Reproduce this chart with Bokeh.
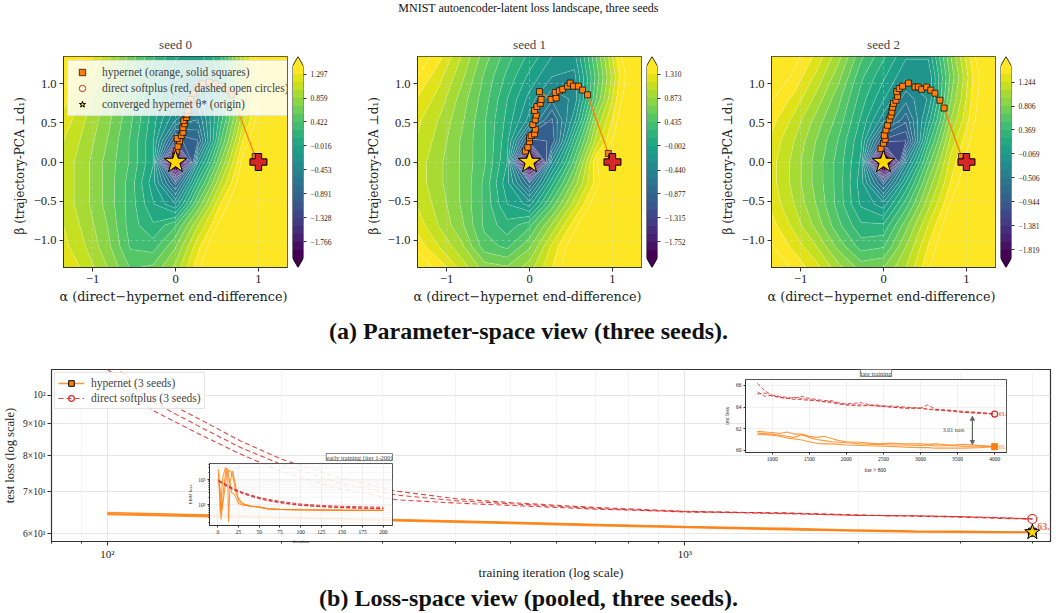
import math
import numpy as np
from bokeh.plotting import figure
from bokeh.layouts import column, row
from bokeh.models import (Range1d, FixedTicker, SingleIntervalTicker,
                          CustomJSTickFormatter, Label, Legend, LegendItem, Arrow,
                          NormalHead, Spacer, Title)
from bokeh.palettes import Viridis256
from bokeh.embed import file_html
from bokeh.resources import INLINE

# ---------------------------------------------------------------- style
SERIF = "DejaVu Serif"
TIMES = "Liberation Serif"
ORANGE = "#ff7f0e"
RED = "#d62728"
GOLD = "#ffd700"
EDGE = "#333333"

# ------------------------------------------------ (a) loss landscapes
# grid coordinates (alpha along columns, beta along rows, bottom -> top)
alpha_grid = [-1.35, -1.08, -0.81, -0.54, -0.27, 0.0, 0.27, 0.54, 0.81, 1.08, 1.35]
beta_grid = [-1.35, -1.08, -0.81, -0.54, -0.27, 0.0, 0.27, 0.54, 0.81, 1.08, 1.35]

# log10(loss - minloss) on the grid
landscape_seed0 = [
    [1.30, 1.10, 0.85, 0.55, 0.60, 0.90, 1.40, 1.80, 2.10, 2.30, 2.40],
    [1.20, 1.00, 0.75, 0.40, 0.35, 0.70, 1.25, 1.70, 2.00, 2.20, 2.30],
    [1.15, 0.95, 0.70, 0.35, 0.15, 0.40, 1.00, 1.50, 1.90, 2.10, 2.20],
    [1.10, 0.90, 0.65, 0.35, 0.00, -0.30, 0.60, 1.30, 1.70, 2.00, 2.10],
    [1.10, 0.90, 0.65, 0.35, -0.10, -0.95, 0.20, 1.00, 1.60, 1.90, 2.10],
    [1.10, 0.90, 0.65, 0.40, 0.00, -3.00, -0.30, 0.70, 1.50, 1.90, 2.00],
    [1.15, 0.95, 0.70, 0.40, 0.00, -1.10, -0.90, 0.40, 1.30, 1.80, 2.00],
    [1.25, 1.00, 0.75, 0.45, 0.05, -0.45, -0.60, 0.20, 1.10, 1.70, 2.00],
    [1.35, 1.10, 0.80, 0.50, 0.10, -0.25, -0.40, 0.10, 1.00, 1.60, 2.00],
    [1.50, 1.25, 0.90, 0.55, 0.20, -0.10, -0.25, 0.15, 1.00, 1.60, 2.00],
    [1.65, 1.40, 1.05, 0.65, 0.30, 0.00, -0.10, 0.25, 1.10, 1.70, 2.10],
]
landscape_seed1 = [
    [1.60, 1.40, 1.10, 0.80, 0.75, 0.95, 1.30, 1.70, 2.00, 2.20, 2.30],
    [1.40, 1.15, 0.90, 0.50, 0.40, 0.70, 1.20, 1.60, 1.90, 2.10, 2.20],
    [1.25, 1.00, 0.75, 0.40, 0.20, 0.40, 0.90, 1.40, 1.80, 2.00, 2.10],
    [1.15, 0.95, 0.70, 0.40, 0.00, -0.20, 0.50, 1.10, 1.60, 1.90, 2.00],
    [1.10, 0.90, 0.70, 0.40, -0.10, -0.85, 0.10, 0.80, 1.40, 1.80, 2.00],
    [1.10, 0.90, 0.70, 0.45, 0.00, -3.00, -0.40, 0.50, 1.45, 1.70, 1.90],
    [1.15, 0.95, 0.70, 0.45, 0.05, -1.10, -1.00, 0.20, 1.10, 1.60, 1.90],
    [1.20, 1.00, 0.75, 0.45, 0.10, -0.35, -0.90, -0.20, 0.90, 1.50, 1.80],
    [1.30, 1.10, 0.80, 0.50, 0.15, -0.20, -0.55, -0.40, 0.60, 1.40, 1.80],
    [1.45, 1.20, 0.90, 0.55, 0.25, -0.05, -0.30, -0.35, 0.50, 1.30, 1.80],
    [1.60, 1.35, 1.00, 0.65, 0.35, 0.10, -0.15, -0.20, 0.60, 1.40, 1.90],
]
landscape_seed2 = [
    [1.70, 1.50, 1.30, 1.00, 0.75, 0.80, 1.10, 1.50, 1.90, 2.10, 2.20],
    [1.55, 1.35, 1.10, 0.75, 0.45, 0.50, 0.95, 1.40, 1.80, 2.00, 2.10],
    [1.45, 1.20, 0.90, 0.55, 0.25, 0.25, 0.75, 1.25, 1.70, 1.95, 2.00],
    [1.35, 1.10, 0.80, 0.45, 0.05, -0.15, 0.45, 1.05, 1.55, 1.90, 2.00],
    [1.30, 1.05, 0.75, 0.45, 0.00, -0.85, 0.10, 0.85, 1.40, 1.80, 2.00],
    [1.30, 1.05, 0.75, 0.45, 0.05, -3.00, -0.40, 0.60, 1.30, 1.70, 1.90],
    [1.35, 1.10, 0.80, 0.50, 0.10, -1.00, -1.10, 0.30, 1.15, 1.60, 1.90],
    [1.45, 1.20, 0.90, 0.60, 0.20, -0.30, -0.75, 0.00, 0.95, 1.50, 1.85],
    [1.55, 1.35, 1.05, 0.70, 0.30, -0.05, -0.45, -0.20, 0.80, 1.45, 1.85],
    [1.70, 1.50, 1.20, 0.85, 0.40, 0.10, -0.20, -0.20, 0.70, 1.40, 1.85],
    [1.85, 1.60, 1.35, 1.00, 0.55, 0.25, -0.05, -0.05, 0.80, 1.50, 1.90],
]

# colour-bar tick values and level span for each seed
cbar_ticks_seed0 = [1.297, 0.859, 0.422, -0.016, -0.453, -0.891, -1.328, -1.766]
cbar_ticks_seed1 = [1.310, 0.873, 0.435, -0.002, -0.440, -0.877, -1.315, -1.752]
cbar_ticks_seed2 = [1.244, 0.806, 0.369, -0.069, -0.506, -0.944, -1.381, -1.819]
cbar_span_seed0 = (-2.058, 1.442)
cbar_span_seed1 = (-2.044, 1.456)
cbar_span_seed2 = (-1.965, 1.535)
N_LEVELS = 25

# hypernet trajectories projected on (alpha, beta)
hyper_alpha_seed0 = [0.00, 0.01, 0.03, 0.05, 0.02, 0.07, 0.09, 0.09, 0.11, 0.10, 0.13, 0.14, 0.15,
                     0.16, 0.18, 0.21, 0.26, 0.33, 0.41, 0.48, 0.55, 0.62, 0.68, 0.96, 1.00]
hyper_beta_seed0 = [0.08, 0.14, 0.20, 0.27, 0.30, 0.34, 0.38, 0.44, 0.49, 0.53, 0.57, 0.61, 0.66,
                    0.72, 0.80, 0.88, 0.95, 1.00, 1.02, 1.00, 0.97, 0.92, 0.86, 0.07, 0.02]
hyper_alpha_seed1 = [-0.05, -0.02, 0.00, 0.00, 0.02, 0.06, 0.07, 0.04, 0.07, 0.08, 0.06, 0.09, 0.13, 0.14,
                     0.12, 0.26, 0.32, 0.31, 0.36, 0.40, 0.46, 0.49, 0.53, 0.59, 0.64, 0.70, 0.95, 0.99]
hyper_beta_seed1 = [0.14, 0.19, 0.26, 0.31, 0.34, 0.36, 0.42, 0.48, 0.54, 0.60, 0.66, 0.71, 0.75, 0.80,
                    0.90, 0.80, 0.82, 0.89, 0.91, 0.93, 0.97, 1.01, 0.97, 0.97, 0.92, 0.86, 0.11, 0.06]
hyper_alpha_seed2 = [-0.03, 0.00, 0.02, 0.01, 0.03, 0.05, 0.07, 0.09, 0.10, 0.11, 0.12, 0.15, 0.17, 0.16,
                     0.19, 0.23, 0.30, 0.38, 0.42, 0.46, 0.52, 0.57, 0.62, 0.68, 0.73, 0.94, 0.99]
hyper_beta_seed2 = [0.17, 0.24, 0.29, 0.34, 0.41, 0.47, 0.54, 0.59, 0.64, 0.70, 0.75, 0.79, 0.84, 0.90,
                    0.94, 0.97, 1.01, 0.96, 0.96, 0.93, 0.96, 0.92, 0.88, 0.79, 0.69, 0.07, 0.02]

# direct-softplus end point and the converged hypernet (origin)
direct_end = (1.0, 0.0)
hyper_end = (0.0, 0.0)

# ------------------------------------------------ (b) loss curves
direct_iters = [100, 120, 143, 170, 200, 250, 317, 400, 500, 700, 1000, 1500, 2000, 2500, 3000, 3500, 4000]
direct_loss_seed0 = [113, 100, 92, 84.5, 79.0, 74.0, 70.2, 68.3, 67.3, 66.1, 65.2, 64.7, 64.2, 64.1, 63.9, 63.6, 63.38]
direct_loss_seed1 = [110, 97.5, 89.5, 82.5, 77.5, 72.5, 69.2, 67.8, 67.0, 65.9, 65.0, 64.8, 64.3, 64.0, 63.8, 63.5, 63.32]
direct_loss_seed2 = [106, 94.5, 87, 80.5, 75.5, 71.0, 68.0, 67.2, 66.6, 65.7, 65.1, 64.6, 64.2, 64.1, 63.9, 63.7, 63.35]

hyper_iters = [100, 150, 200, 300, 400, 500, 700, 1000, 1500, 2000, 2500, 3000, 3500, 4000]
hyper_loss_seed0 = [64.9, 64.3, 63.9, 63.3, 62.9, 62.6, 62.1, 61.6, 61.2, 60.8, 60.6, 60.55, 60.45, 60.36]
hyper_loss_seed1 = [64.6, 64.1, 63.7, 63.1, 62.8, 62.5, 62.0, 61.5, 61.0, 60.7, 60.5, 60.45, 60.35, 60.33]
hyper_loss_seed2 = [64.4, 63.9, 63.5, 63.0, 62.6, 62.3, 61.8, 61.4, 60.9, 60.6, 60.4, 60.35, 60.25, 60.33]

final_iter = 4000
direct_final = 63.35
hyper_final = 60.34

# early-training inset (EBM loss, iterations 1-200)
early_hyper_iters_seed0 = [1, 3, 6, 9, 12, 14, 17, 20, 25, 30, 40, 50, 60, 75, 100, 150, 200]
early_hyper_seed0 = [2600, 45, 1200, 2900, 2600, 900, 300, 250, 110, 95, 85, 80, 68, 64, 62, 60, 59]
early_hyper_iters_seed1 = [1, 4, 7, 10, 12, 13, 15, 18, 21, 24, 30, 35, 40, 50, 60, 75, 100, 150, 200]
early_hyper_seed1 = [1800, 25, 400, 2800, 1500, 20, 900, 2200, 700, 200, 110, 95, 86, 79, 67, 63, 61, 59.5, 58.5]
early_hyper_iters_seed2 = [1, 3, 5, 8, 11, 14, 16, 19, 22, 26, 32, 40, 50, 60, 75, 100, 150, 200]
early_hyper_seed2 = [900, 400, 60, 300, 1900, 2400, 2000, 1000, 300, 130, 100, 87, 80, 68, 64, 62, 60, 59]
early_direct_iters = [1, 10, 20, 30, 40, 50, 60, 75, 90, 100, 125, 150, 175, 200]
early_direct_seed0 = [950, 640, 420, 310, 240, 195, 165, 135, 115, 105, 92, 85, 81, 78]
early_direct_seed1 = [900, 590, 390, 290, 225, 180, 150, 123, 105, 96, 84, 77, 73, 71]
early_direct_seed2 = [860, 560, 370, 275, 212, 172, 144, 118, 101, 93, 82, 75, 71, 69]

# late-training inset (test loss, iterations > 800)
late_iters = [800, 900, 1000, 1100, 1200, 1300, 1400, 1500, 1600, 1700, 1800, 1900, 2000,
              2200, 2400, 2600, 2800, 3000, 3100, 3200, 3400, 3600, 3800, 4000]
late_direct_seed0 = [66.2, 65.5, 65.1, 65.0, 64.9, 64.8, 65.0, 64.8, 64.7, 64.6, 64.6, 64.4, 64.3,
                     64.4, 64.1, 64.1, 64.0, 63.9, 64.2, 63.8, 63.7, 63.6, 63.5, 63.38]
late_direct_seed1 = [65.2, 65.3, 65.0, 64.9, 64.8, 64.9, 64.8, 64.7, 64.6, 64.5, 64.5, 64.3, 64.2,
                     64.2, 64.1, 64.0, 63.9, 63.9, 63.8, 63.8, 63.6, 63.5, 63.5, 63.32]
late_direct_seed2 = [65.4, 65.0, 65.1, 64.9, 64.8, 64.7, 64.7, 64.6, 64.6, 64.5, 64.4, 64.3, 64.2,
                     64.1, 64.2, 64.0, 63.9, 63.9, 63.8, 63.7, 63.7, 63.5, 63.4, 63.35]
late_hyper_seed0 = [61.75, 61.7, 61.65, 61.55, 61.7, 61.5, 61.5, 61.3, 61.2, 61.3, 61.1, 60.9, 60.8,
                    60.75, 60.6, 60.65, 60.6, 60.6, 60.55, 60.6, 60.5, 60.55, 60.45, 60.36]
late_hyper_seed1 = [61.6, 61.55, 61.5, 61.4, 61.3, 61.2, 61.45, 61.2, 61.0, 60.9, 60.8, 60.75, 60.7,
                    60.6, 60.55, 60.5, 60.5, 60.45, 60.5, 60.4, 60.45, 60.35, 60.4, 60.33]
late_hyper_seed2 = [61.5, 61.45, 61.4, 61.3, 61.15, 61.05, 60.95, 60.8, 60.65, 60.6, 60.6, 60.55, 60.5,
                    60.45, 60.4, 60.35, 60.3, 60.25, 60.25, 60.2, 60.2, 60.2, 60.25, 60.33]

# ---------------------------------------------------------------- helpers
SUP = "{'0':'\u2070','1':'\u00b9','2':'\u00b2','3':'\u00b3','4':'\u2074','5':'\u2075','6':'\u2076','7':'\u2077','8':'\u2078','9':'\u2079','-':'\u207b'}"
log_sup_fmt = CustomJSTickFormatter(code="""
const sup = %s;
const e = Math.round(Math.log10(tick));
if (Math.abs(tick - Math.pow(10, e)) > 1e-6 * tick) { return ''; }
return '10' + String(e).split('').map(c => sup[c]).join('');
""" % SUP)


def own_frame(f):
    # keep each figure's frame where its own borders put it
    if "frame_align" in f.properties():
        f.frame_align = False
    return f


def decade_ticks(decades, lo_val, hi_val):
    major = [10 ** k for k in decades]
    minor = [m * 10 ** k for k in range(min(decades) - 1, max(decades) + 1) for m in range(2, 10)]
    minor = [t for t in minor if lo_val <= t <= hi_val]
    return major, minor


def signed_fmt(digits):
    return CustomJSTickFormatter(
        code="return (tick < -1e-9 ? '\u2212' : '') + Math.abs(tick).toFixed(%d);" % digits)


def style_axes(p, tick_size, label_size, font=SERIF, tick_font=TIMES):
    for ax in p.axis:
        ax.major_label_text_font = tick_font
        ax.major_label_text_font_size = tick_size
        ax.major_label_text_color = "#222222"
        ax.axis_label_text_font = font
        ax.axis_label_text_font_size = label_size
        ax.axis_label_text_font_style = "normal"
        ax.axis_label_text_color = "#222222"
        ax.axis_line_color = EDGE
        ax.major_tick_line_color = EDGE
        ax.minor_tick_line_color = EDGE
        ax.major_tick_in = 0
        ax.minor_tick_in = 0
        ax.major_tick_out = 4
        ax.minor_tick_out = 2
        ax.major_label_standoff = 3
        ax.axis_label_standoff = 4


def text_strip(text, height, size, bold=False, font=TIMES):
    f = figure(width=1056, height=height, x_range=Range1d(0, 1), y_range=Range1d(0, 1),
               x_axis_location=None, y_axis_location=None, toolbar_location=None,
               output_backend="svg", min_border_left=0, min_border_right=0,
               min_border_top=0, min_border_bottom=0)
    own_frame(f)
    f.grid.visible = False
    f.outline_line_color = None
    f.add_layout(Label(x=0.5, y=0.5, text=text, text_align="center", text_baseline="middle",
                       text_font=font, text_font_size=size,
                       text_font_style="bold" if bold else "normal", text_color="#111111"))
    return f


def landscape_panel(seed, z_rows, ticks, span, ha, hb, with_legend):
    lo, hi = span
    levels = np.linspace(lo, hi, N_LEVELS)
    n_bands = N_LEVELS - 1
    bands = [Viridis256[int(round(i * 255 / (n_bands - 1)))] for i in range(n_bands)]
    z = np.array(z_rows, dtype=float)
    all_levels = np.concatenate([[min(z.min(), lo) - 0.01], levels, [max(z.max(), hi) + 0.01]])
    fills = [Viridis256[0]] + bands + [Viridis256[-1]]

    p = figure(width=292, height=298, x_range=Range1d(-1.35, 1.35), y_range=Range1d(-1.35, 1.35),
               min_border_left=63, min_border_right=5, min_border_top=42, min_border_bottom=45,
               toolbar_location=None, output_backend="svg", title="seed %d" % seed)
    own_frame(p)
    p.title.text_font = TIMES
    p.title.text_font_size = "13px"
    p.title.text_font_style = "normal"
    p.title.align = "center"
    p.outline_line_color = EDGE
    p.outline_line_width = 1

    cr = p.contour(alpha_grid, beta_grid, z, all_levels, fill_color=fills,
                   line_color="white", line_alpha=0.35, line_width=0.6)
    cr.level = "image"

    p.xaxis.ticker = FixedTicker(ticks=[-1, 0, 1])
    p.yaxis.ticker = FixedTicker(ticks=[-1.0, -0.5, 0.0, 0.5, 1.0])
    p.xaxis.formatter = signed_fmt(0)
    p.yaxis.formatter = signed_fmt(1)
    p.xaxis.axis_label = "\u03b1  (direct\u2212hypernet end-difference)"
    p.yaxis.axis_label = "\u03b2  (trajectory-PCA  \u22a5d\u2081)"
    style_axes(p, "12.5px", "12px")
    p.xaxis.axis_label_text_font_size = "12.8px"
    p.xaxis.axis_label_standoff = 3
    p.grid.grid_line_color = "#dddddd"
    p.grid.grid_line_alpha = 0.55
    p.grid.grid_line_dash = "3 3"
    p.grid.grid_line_width = 0.7

    p.line(ha, hb, color=ORANGE, line_width=1.3)
    sq = p.scatter(ha, hb, marker="square", size=6, fill_color=ORANGE, line_color="black",
                   line_width=0.7)
    dc = p.scatter([direct_end[0]], [direct_end[1]], marker="circle", size=5, fill_color=None,
                   line_color=RED, line_width=1)
    p.scatter([direct_end[0]], [direct_end[1]], marker="plus", size=17, fill_color=RED,
              line_color="black", line_width=1)
    st = p.scatter([hyper_end[0]], [hyper_end[1]], marker="star", size=24, fill_color=GOLD,
                   line_color="black", line_width=1)

    if with_legend:
        lg = Legend(items=[
            LegendItem(label="hypernet (orange, solid squares)", renderers=[sq]),
            LegendItem(label="direct softplus (red, dashed open circles)", renderers=[dc]),
            LegendItem(label="converged hypernet \u03b8* (origin)", renderers=[st]),
        ], location="top_left")
        lg.label_text_font = TIMES
        lg.label_text_font_size = "11.5px"
        lg.label_height = 14
        lg.glyph_height = 16
        lg.glyph_width = 22
        lg.spacing = 0
        lg.padding = 3
        lg.margin = 4
        lg.label_standoff = 9
        lg.background_fill_alpha = 0.82
        lg.border_line_color = "#cccccc"
        p.add_layout(lg)

    # colour bar with extension triangles
    ext = 0.05 * (hi - lo)
    cb = figure(width=56, height=298, x_range=Range1d(0, 1), y_range=Range1d(lo - ext, hi + ext),
                min_border_left=0, min_border_right=45, min_border_top=42, min_border_bottom=45,
                x_axis_location=None, y_axis_location="right", toolbar_location=None,
                output_backend="svg")
    own_frame(cb)
    cb.grid.visible = False
    cb.outline_line_color = None
    cb.background_fill_color = None
    cb.quad(left=0, right=1, bottom=levels[:-1], top=levels[1:], fill_color=bands, line_color=None)
    cb.patch([0, 0.5, 1], [hi, hi + ext, hi], fill_color=Viridis256[-1], line_color=None)
    cb.patch([0, 0.5, 1], [lo, lo - ext, lo], fill_color=Viridis256[0], line_color=None)
    cb.line([0, 0, 0.5, 1, 1, 0.5, 0], [lo, hi, hi + ext, hi, lo, lo - ext, lo],
            line_color="black", line_width=0.8)
    cb.yaxis.ticker = FixedTicker(ticks=ticks)
    cb.yaxis.formatter = signed_fmt(3)
    style_axes(cb, "7.5px", "7.5px", font=TIMES)
    cb.yaxis.axis_line_color = None
    cb.yaxis.major_tick_out = 3
    cb.yaxis.major_label_standoff = 4
    cb.add_layout(Label(x=0, y=(lo + hi) / 2, x_offset=47, angle=math.pi / 2,
                        text="log\u2081\u2080 (loss \u2212 minloss)", text_align="center",
                        text_baseline="middle", text_font=TIMES, text_font_size="7.5px",
                        text_color="#222222"))
    return p, cb


# ---------------------------------------------------------------- (a)
p0, c0 = landscape_panel(0, landscape_seed0, cbar_ticks_seed0, cbar_span_seed0,
                         hyper_alpha_seed0, hyper_beta_seed0, True)
p1, c1 = landscape_panel(1, landscape_seed1, cbar_ticks_seed1, cbar_span_seed1,
                         hyper_alpha_seed1, hyper_beta_seed1, False)
p2, c2 = landscape_panel(2, landscape_seed2, cbar_ticks_seed2, cbar_span_seed2,
                         hyper_alpha_seed2, hyper_beta_seed2, False)
top_row = row(p0, c0, Spacer(width=6, height=298), p1, c1, Spacer(width=6, height=298), p2, c2)

# ---------------------------------------------------------------- (b)
pb = figure(width=1056, height=234, x_axis_type="log", y_axis_type="log",
            x_range=Range1d(80, 4300), y_range=Range1d(58.3, 110),
            min_border_left=49, min_border_right=6, min_border_top=21, min_border_bottom=39,
            toolbar_location=None, output_backend="svg")
own_frame(pb)
pb.outline_line_color = EDGE
pb.outline_line_width = 1.2
x_major, x_minor = decade_ticks([2, 3], 80, 4300)
pb.xaxis.ticker = FixedTicker(ticks=x_major, minor_ticks=x_minor)
pb.xaxis.formatter = log_sup_fmt
pb.yaxis.ticker = FixedTicker(ticks=[60, 70, 80, 90, 100])
pb.yaxis.formatter = CustomJSTickFormatter(code="""
if (Math.abs(tick - 100) < 1e-6) { return '10\u00b2'; }
return (tick / 10).toFixed(0) + '\u00d710\u00b9';
""")
pb.xaxis.axis_label = "training iteration (log scale)"
pb.yaxis.axis_label = "test loss (log scale)"
style_axes(pb, "9.5px", "12.5px", font=TIMES)
pb.xaxis.axis_label_text_font_size = "13px"
pb.xaxis.major_label_text_font_size = "11px"
pb.xaxis.major_label_standoff = 2
pb.xaxis.axis_label_standoff = 2
pb.yaxis.major_label_standoff = 2
pb.yaxis.axis_label_standoff = 3
pb.grid.grid_line_color = "#dcdcdc"
pb.grid.grid_line_width = 0.7
pb.xgrid.minor_grid_line_color = "#ececec"
pb.xgrid.minor_grid_line_width = 0.6

h_lines = []
for ys in (hyper_loss_seed0, hyper_loss_seed1, hyper_loss_seed2):
    h_lines.append(pb.line(hyper_iters, ys, color=ORANGE, line_width=1.5, line_alpha=0.85))
d_lines = []
for ys in (direct_loss_seed0, direct_loss_seed1, direct_loss_seed2):
    d_lines.append(pb.line(direct_iters, ys, color=RED, line_width=1.1, line_alpha=0.85,
                           line_dash="5 3"))
h_end = pb.scatter([final_iter], [hyper_final], marker="square", size=8, fill_color=ORANGE,
                   line_color="black", line_width=1)
d_end = pb.scatter([final_iter], [direct_final], marker="circle", size=9, fill_color=None,
                   line_color=RED, line_width=1.2)
pb.scatter([final_iter], [hyper_final], marker="star", size=16, fill_color=GOLD,
           line_color="black", line_width=1)
pb.add_layout(Label(x=final_iter, y=direct_final, text="%.2f" % direct_final, x_offset=5,
                    y_offset=-4, text_baseline="top", text_font=TIMES, text_font_size="10px",
                    text_font_style="bold", text_color="#ec7059"))

lgb = Legend(items=[
    LegendItem(label="hypernet (3 seeds)", renderers=[h_lines[0], h_end]),
    LegendItem(label="direct softplus (3 seeds)", renderers=[d_lines[0], d_end]),
], location="top_left")
lgb.label_text_font = TIMES
lgb.label_text_font_size = "11.5px"
lgb.label_height = 13
lgb.glyph_height = 14
lgb.glyph_width = 26
lgb.spacing = 1
lgb.padding = 3
lgb.margin = 3
lgb.label_standoff = 7
lgb.background_fill_alpha = 0.85
lgb.border_line_color = "#cccccc"
pb.add_layout(lgb)

# -------------------------------------------- late-training inset
li = figure(width=310, height=117, x_range=Range1d(640, 4160), y_range=Range1d(59.8, 66.55),
            min_border_left=27, min_border_right=22, min_border_top=21, min_border_bottom=22,
            toolbar_location=None, output_backend="svg")
own_frame(li)
li.margin = (-224, 0, 107, 718)
li.border_fill_alpha = 0
li.background_fill_alpha = 0.9
li.outline_line_color = "#555555"
li.xaxis.ticker = SingleIntervalTicker(interval=500)
li.yaxis.ticker = SingleIntervalTicker(interval=2)
li.xaxis.axis_label = "iter  > 800"
li.yaxis.axis_label = "test loss"
style_axes(li, "5.5px", "5.5px", font=TIMES)
for ax in li.axis:
    ax.major_tick_out = 2
    ax.minor_tick_out = 0
    ax.major_label_standoff = 2
    ax.axis_label_standoff = 3
li.grid.grid_line_color = "#e3e3e3"
li.grid.grid_line_width = 0.5
li.add_layout(Title(text="late training", align="center", text_font=TIMES, text_font_size="6.5px",
                    text_font_style="normal", background_fill_color="white",
                    border_line_color="#666666", border_line_width=0.8, standoff=6), "above")
for ys in (late_direct_seed0, late_direct_seed1, late_direct_seed2):
    li.line(late_iters, ys, color=RED, line_width=0.9, line_alpha=0.85, line_dash="4 2")
for ys in (late_hyper_seed0, late_hyper_seed1, late_hyper_seed2):
    li.line(late_iters, ys, color=ORANGE, line_width=1.1, line_alpha=0.8)
li.scatter([final_iter], [direct_final], marker="circle", size=6, fill_color=None,
           line_color=RED, line_width=1.2)
li.scatter([final_iter], [hyper_final], marker="square", size=6, fill_color=ORANGE,
           line_color=ORANGE)
li.add_layout(Label(x=final_iter, y=direct_final, text="%.2f" % direct_final, x_offset=4,
                    text_baseline="middle", text_font=TIMES, text_font_size="5.5px",
                    text_color=RED))
li.add_layout(Label(x=final_iter, y=hyper_final, text="%.2f" % hyper_final, x_offset=4,
                    text_baseline="middle", text_font=TIMES, text_font_size="5.5px",
                    text_color=ORANGE))
gap_iter = final_iter - 300
li.add_layout(Arrow(x_start=gap_iter, y_start=direct_final - 0.2, x_end=gap_iter,
                    y_end=hyper_final + 0.2, line_color="#666666", line_width=1.2,
                    start=NormalHead(size=4, fill_color="#666666", line_color="#666666"),
                    end=NormalHead(size=4, fill_color="#666666", line_color="#666666")))
li.add_layout(Label(x=gap_iter, y=(direct_final + hyper_final) / 2,
                    text="%.2f nats" % (direct_final - hyper_final), x_offset=-8,
                    text_align="right", text_baseline="middle", text_font=TIMES,
                    text_font_size="6px", text_color="#444444"))

# ------------------------------------------- early-training inset
ei = figure(width=213, height=104, x_range=Range1d(-10, 211), y_range=Range1d(14.5, 4400),
            y_axis_type="log", min_border_left=26, min_border_right=4, min_border_top=19,
            min_border_bottom=23, toolbar_location=None, output_backend="svg")
own_frame(ei)
ei.margin = (-138, 0, 34, 183)
ei.border_fill_alpha = 0
ei.background_fill_alpha = 0.88
ei.outline_line_color = "#555555"
ei.xaxis.ticker = SingleIntervalTicker(interval=25)
y_major, y_minor = decade_ticks([2, 3], 14.5, 4400)
ei.yaxis.ticker = FixedTicker(ticks=y_major, minor_ticks=y_minor)
ei.yaxis.formatter = log_sup_fmt
ei.xaxis.axis_label = "iteration"
ei.yaxis.axis_label = "EBM loss"
style_axes(ei, "5.5px", "5px", font=TIMES)
for ax in ei.axis:
    ax.major_tick_out = 2
    ax.minor_tick_out = 1
    ax.major_label_standoff = 2
    ax.axis_label_standoff = 2
ei.xaxis.minor_tick_out = 0
ei.grid.grid_line_color = "#e0e0e0"
ei.grid.grid_line_width = 0.5
ei.ygrid.minor_grid_line_color = "#eeeeee"
ei.ygrid.minor_grid_line_width = 0.5
ei.add_layout(Title(text="early training (iter 1-200)", align="right", text_font=TIMES,
                    text_font_size="6.5px", text_font_style="normal",
                    background_fill_color="white", border_line_color="#666666",
                    border_line_width=0.8, standoff=6), "above")
for xs, ys in ((early_hyper_iters_seed0, early_hyper_seed0),
               (early_hyper_iters_seed1, early_hyper_seed1),
               (early_hyper_iters_seed2, early_hyper_seed2)):
    ei.line(xs, ys, color=ORANGE, line_width=1.1, line_alpha=0.8)
for ys in (early_direct_seed0, early_direct_seed1, early_direct_seed2):
    ei.line(early_direct_iters, ys, color=RED, line_width=1.0, line_alpha=0.85, line_dash="4 2")

# ---------------------------------------------------------------- page
title_strip = text_strip("MNIST autoencoder-latent loss landscape, three seeds", 14, "12px")
cap_a = text_strip("(a) Parameter-space view (three seeds).", 36, "24px", bold=True)
cap_b = text_strip("(b) Loss-space view (pooled, three seeds).", 31, "24px", bold=True)

page = column(title_strip, top_row, cap_a, pb, li, ei, cap_b)
open("out.html", "w", encoding="utf-8").write(file_html(page, INLINE))
